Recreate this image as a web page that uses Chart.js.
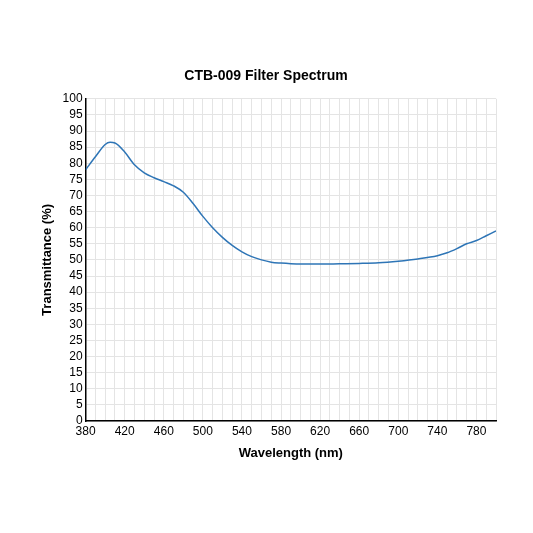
<!DOCTYPE html><html><head><script src="https://cdn.jsdelivr.net/npm/chart.js@4"></script>
<style>body{margin:0;background:#fff}#w{position:absolute;left:0;top:0;width:533px;height:533px}</style></head><body><div id="w"><canvas id="c"></canvas></div>
<script>
const wavelengths=[380,390,400,405,410,420,430,440,450,460,470,480,490,500,510,520,530,540,550,560,570,580,590,600,620,640,660,680,700,720,740,750,760,770,780,790,800];
const transmittance=[78,82,85.8,86.5,86.3,83.5,79.5,77,75.5,74.3,73,71,67.5,63.5,60,57,54.5,52.5,51,50,49.3,49,48.8,48.7,48.7,48.8,48.9,49.1,49.6,50.3,51.3,52.2,53.5,55,56,57.5,59];
const F='Arial, "Liberation Sans", sans-serif';
new Chart(document.getElementById('c'),{type:'line',
data:{datasets:[{data:wavelengths.map((x,i)=>({x,y:transmittance[i]})),borderColor:'#2e75b6',borderWidth:1.5,pointRadius:0,cubicInterpolationMode:'monotone',fill:false}]},
options:{responsive:true,maintainAspectRatio:false,animation:false,
layout:{padding:{left:36,right:37,top:68,bottom:68}},
plugins:{legend:{display:false},title:{display:true,text:'CTB-009 Filter Spectrum',color:'#000',font:{family:F,size:14,weight:'bold'},padding:{bottom:14}}},
scales:{x:{type:'linear',min:380,max:800,
 ticks:{stepSize:10,autoSkip:false,maxRotation:0,color:'#000',font:{family:F,size:12},callback:v=>((v-380)%40===0?v:'')},
 grid:{color:'#e4e4e4',drawTicks:false},border:{color:'#000',width:1.5},
 title:{display:true,text:'Wavelength (nm)',color:'#000',font:{family:F,size:13,weight:'bold'}}},
y:{min:0,max:100,ticks:{stepSize:5,autoSkip:false,color:'#000',font:{family:F,size:12}},
 grid:{color:'#e4e4e4',drawTicks:false},border:{color:'#000',width:1.5},
 title:{display:true,text:'Transmittance (%)',color:'#000',font:{family:F,size:13,weight:'bold'}}}}}});
</script></body></html>
